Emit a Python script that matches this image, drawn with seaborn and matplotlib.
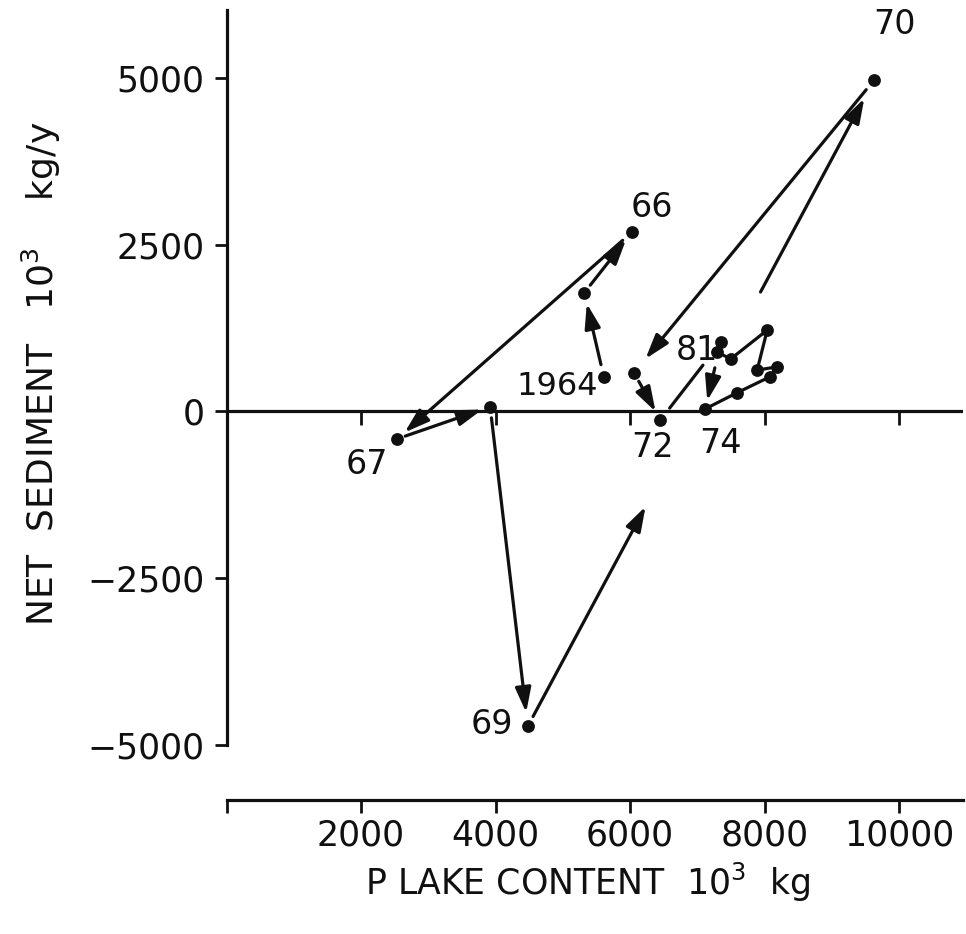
import matplotlib
matplotlib.use("Agg")
import matplotlib.pyplot as plt
import numpy as np
import pandas as pd
import seaborn as sns

# Yearly trajectory: phosphorus content of the lake vs. net sedimentation
years = [1964, 1965, 1966, 1967, 1968, 1969, 1970, 1971, 1972,
         1973, 1974, 1975, 1976, 1977, 1978, 1979, 1980, 1981]
p_content = [5610, 5320, 6030, 2540, 3920, 4480, 9630, 6060, 6450,
             7350, 7120, 7590, 8080, 8190, 7890, 8040, 7500, 7290]
net_sediment = [520, 1780, 2690, -410, 70, -4720, 4970, 580, -130,
                1040, 40, 280, 520, 670, 620, 1220, 790, 890]

# Years that carry a label, and the text drawn for them
labelled_years = [1964, 1966, 1967, 1969, 1970, 1972, 1974, 1981]
year_texts = ["1964", "66", "67", "69", "70", "72", "74", "81"]

x_ticks = [0, 2000, 4000, 6000, 8000, 10000]
x_tick_labels = ["", "2000", "4000", "6000", "8000", "10000"]
y_ticks = [-5000, -2500, 0, 2500, 5000]
y_tick_labels = ["\u22125000", "\u22122500", "0", "2500", "5000"]

df = pd.DataFrame({"year": years, "p": p_content, "sed": net_sediment})

sns.set_style("ticks")
plt.rcParams["font.family"] = ["DejaVu Sans"]
plt.rcParams["mathtext.fontset"] = "custom"
plt.rcParams["mathtext.rm"] = "DejaVu Sans"
ink = "#101010"

fig = plt.figure(figsize=(9.66, 9.34), dpi=100)
ax = fig.add_axes([0.2345, 0.1435, 0.7623, 0.8458])

XMAX = 10950
YMIN, YMAX = -5825, 6020
ax.set_xlim(0, XMAX)
ax.set_ylim(YMIN, YMAX)

# Zero line with its own downward tick marks
ax.axhline(0, color=ink, lw=2.3, zorder=1)
ax.plot(x_ticks[1:], [0] * len(x_ticks[1:]), ls="none", marker=3,
        ms=10, mew=2.0, color=ink, zorder=1)

# Points
sns.scatterplot(data=df, x="p", y="sed", ax=ax, color=ink, s=85,
                linewidth=0, zorder=4, legend=False)

HEAD = "-|>,head_length=0.75,head_width=0.24"


def connect(p0, p1, head=True, sa=7, sb=7):
    ax.annotate("", xy=p1, xytext=p0, xycoords="data", textcoords="data",
                arrowprops=dict(arrowstyle=HEAD if head else "-",
                                mutation_scale=20, lw=2.3, color=ink,
                                shrinkA=sa, shrinkB=sb), zorder=3)


pts = list(zip(p_content, net_sediment))
idx = {y: i for i, y in enumerate(years)}

# segment style: (from year, head, shrinkA, shrinkB) in points
segments = [
    (1964, True, 9, 8),
    (1965, True, 7, 7),
    (1966, True, 9, 7),
    (1967, True, 6, 6),
    (1968, True, 8, 10),
    (1970, True, 9, 13),
    (1971, True, 7, 7),
    (1972, False, 11, 21),
    (1973, True, 19, 6),
    (1974, False, 4, 4),
    (1975, False, 4, 4),
    (1976, False, 2, 2),
    (1977, False, 4, 4),
    (1978, False, 4, 4),
    (1979, False, 4, 4),
    (1980, False, 2, 2),
]
for y0, head, sa, sb in segments:
    i = idx[y0]
    connect(pts[i], pts[i + 1], head, sa, sb)

# 1969 -> 1970 drawn with a gap where it crosses the cluster
a = np.array(pts[idx[1969]], dtype=float)
b = np.array(pts[idx[1970]], dtype=float)
gap_start, gap_end = 0.34, 0.672
connect(tuple(a), tuple(a + gap_start * (b - a)), True, 8, 0)
connect(tuple(a + gap_end * (b - a)), tuple(b), True, 0, 15)

# Year labels (offsets in pixels, font size)
offsets = {1964: (-6, -10, "right", 23), 1966: (20, 25, "center", 24),
           1967: (-30, -26, "center", 24), 1969: (-36, 2, "center", 24),
           1970: (20, 56, "center", 24), 1972: (-8, -27, "center", 24),
           1974: (15, -35, "center", 24), 1981: (-20, 2, "center", 24)}
for yr, txt in zip(labelled_years, year_texts):
    dx, dy, ha, fs = offsets[yr]
    ax.annotate(txt, xy=pts[idx[yr]], xytext=(dx, dy),
                textcoords="offset pixels", ha=ha, va="center",
                fontsize=fs, color=ink)

# Axes styling
for s in ["top", "right"]:
    ax.spines[s].set_visible(False)
ax.spines["left"].set_bounds(-5000, YMAX)
ax.spines["bottom"].set_bounds(0, XMAX)
for s in ["left", "bottom"]:
    ax.spines[s].set_linewidth(2.3)
    ax.spines[s].set_color(ink)

ax.set_xticks(x_ticks)
ax.set_xticklabels(x_tick_labels)
ax.set_yticks(y_ticks)
ax.set_yticklabels(y_tick_labels)
ax.tick_params(axis="both", direction="out", length=9, width=2.0,
               color=ink, labelcolor=ink, labelsize=25)
ax.tick_params(axis="x", pad=4)
ax.tick_params(axis="y", pad=7)

ax.set_xlabel("P LAKE CONTENT  10$^{3}$  kg", fontsize=25, color=ink)
ax.xaxis.set_label_coords(0.49, -0.077)
ax.set_ylabel("NET  SEDIMENT   10$^{3}$    kg/y", fontsize=26, color=ink)
ax.yaxis.set_label_coords(-0.222, 0.54)

fig.savefig("out.png", dpi=100)
